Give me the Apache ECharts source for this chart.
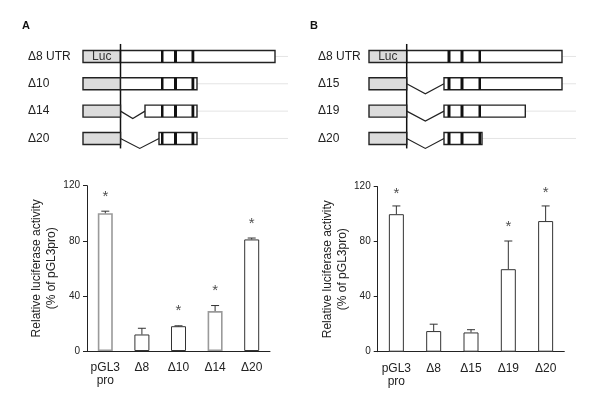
<!DOCTYPE html>
<html><head><meta charset="utf-8">
<script src="https://cdn.jsdelivr.net/npm/echarts@6/dist/echarts.min.js"></script>
<style>html,body{margin:0;padding:0;background:#fff}#c{width:600px;height:403px}</style>
</head><body><div id="c"></div>
<script>
// ---- bar chart data ----
const categoriesA = ['pGL3\npro', 'Δ8', 'Δ10', 'Δ14', 'Δ20'];
const valuesA = [100, 12, 18, 29, 81];
const errorTopA = [101.5, 16.5, 18.3, 33, 82];
const starsA = [['pGL3\npro', 114], ['Δ10', 31], ['Δ14', 45.5], ['Δ20', 94.5]];

const categoriesB = ['pGL3\npro', 'Δ8', 'Δ15', 'Δ19', 'Δ20'];
const valuesB = [100, 15, 14, 60, 95];
const errorTopB = [106, 20, 16, 80.5, 106];
const starsB = [['pGL3\npro', 117], ['Δ19', 93], ['Δ20', 118]];

const yMin = 0, yMax = 120, yStep = 40;

// ---- construct diagram data (positions along the construct) ----
const constructNamesA = ['Δ8 UTR', 'Δ10', 'Δ14', 'Δ20'];
const lucEndA = 37.5;
const utrStartA = [37.5, 37.5, 62, 76];
const utrEndA = [192, 114, 114, 114];
const bandsA = [[78, 80.5], [91, 94], [108.5, 111.3]];
const scaleEndA = 205;

const constructNamesB = ['Δ8 UTR', 'Δ15', 'Δ19', 'Δ20'];
const lucEndB = 37.7;
const utrStartB = [37.7, 75, 75, 75];
const utrEndB = [193, 193, 156.3, 113];
const bandsB = [[78.5, 81.5], [91.5, 94.5], [109.5, 112]];
const scaleEndB = 207;

const FONT = 'Liberation Sans, Arial, sans-serif';
const INK = '#222';

function constructSeries(idx, starts, ends, bands, lucEnd, scaleEnd) {
  return {
    type: 'custom', xAxisIndex: idx, yAxisIndex: idx, silent: true,
    data: starts.map((s, i) => [i, s, ends[i]]),
    encode: { x: [1, 2], y: 0 },
    renderItem(params, api) {
      const row = api.value(0), s = api.value(1), e = api.value(2);
      const p0 = api.coord([0, row]);
      const pl = api.coord([lucEnd, row]);
      const ps = api.coord([s, row]);
      const pe = api.coord([e, row]);
      const pm = api.coord([scaleEnd, row]);
      const band = api.size([0, 1])[1];
      const cy = p0[1], h = 12;
      const ch = [];
      ch.push({ type: 'line', shape: { x1: pe[0], y1: cy, x2: pm[0], y2: cy }, style: { stroke: '#e4e4e4', lineWidth: 1 } });
      ch.push({ type: 'rect', shape: { x: p0[0], y: cy - h / 2, width: pl[0] - p0[0], height: h }, style: { fill: '#dcdcdc', stroke: INK, lineWidth: 1.4 } });
      if (s > lucEnd + 0.5) {
        const len = ps[0] - pl[0];
        const dip = Math.min(10, len * 0.3);
        ch.push({ type: 'polyline', shape: { points: [[pl[0], cy], [pl[0] + len * 0.5, cy + dip], [ps[0], cy]] }, style: { stroke: INK, lineWidth: 1.2, fill: null } });
      }
      ch.push({ type: 'rect', shape: { x: ps[0], y: cy - h / 2, width: pe[0] - ps[0], height: h }, style: { fill: '#fff', stroke: INK, lineWidth: 1.4 } });
      bands.forEach(b => {
        if (b[0] >= s && b[1] <= e) {
          const a = api.coord([b[0], row]), z = api.coord([b[1], row]);
          ch.push({ type: 'rect', shape: { x: a[0], y: cy - h / 2, width: z[0] - a[0], height: h }, style: { fill: '#111' } });
        }
      });
      if (row === 0) {
        ch.push({ type: 'text', style: { text: 'Luc', x: (p0[0] + pl[0]) / 2, y: cy + 0.5, align: 'center', verticalAlign: 'middle', fontSize: 12, fontFamily: FONT, fill: '#333' } });
        ch.push({ type: 'line', shape: { x1: pl[0], y1: cy - 12.5, x2: pl[0], y2: cy + 3 * band + 10 }, style: { stroke: '#111', lineWidth: 1.5 } });
      }
      return { type: 'group', children: ch };
    }
  };
}

function errorSeries(idx, cats, vals, tops) {
  return {
    type: 'custom', xAxisIndex: idx, yAxisIndex: idx, silent: true, z: 3,
    data: cats.map((c, i) => [i, vals[i], tops[i]]),
    encode: { x: 0, y: [1, 2] },
    renderItem(params, api) {
      const a = api.coord([api.value(0), api.value(1)]);
      const b = api.coord([api.value(0), api.value(2)]);
      const w = 4;
      return { type: 'group', children: [
        { type: 'line', shape: { x1: a[0], y1: a[1], x2: b[0], y2: b[1] }, style: { stroke: '#333', lineWidth: 1 } },
        { type: 'line', shape: { x1: b[0] - w, y1: b[1], x2: b[0] + w, y2: b[1] }, style: { stroke: '#333', lineWidth: 1 } }
      ] };
    }
  };
}

function starSeries(idx, stars) {
  return {
    type: 'scatter', xAxisIndex: idx, yAxisIndex: idx, silent: true,
    symbolSize: 0, data: stars,
    label: { show: true, formatter: '*', position: 'inside', offset: [0, 3], fontSize: 15, fontFamily: FONT, color: '#222' }
  };
}

function barSeries(idx, vals, borderColors) {
  return {
    type: 'bar', xAxisIndex: idx, yAxisIndex: idx, barWidth: 15, silent: true,
    data: vals.map((v, i) => ({ value: v, itemStyle: { color: '#fff', borderColor: borderColors[i], borderWidth: borderColors[i] === '#333' ? 1 : 1.6 } }))
  };
}

function catAxis(idx, cats) {
  return { type: 'category', gridIndex: idx, data: cats,
    axisLine: { lineStyle: { color: INK, width: 1 } }, axisTick: { show: false },
    axisLabel: { color: '#222', fontSize: 12, fontFamily: FONT, margin: 10, lineHeight: 13, interval: 0 } };
}
function valAxis(idx) {
  return { type: 'value', gridIndex: idx, min: yMin, max: yMax, interval: yStep,
    axisLine: { show: true, lineStyle: { color: INK, width: 1 } },
    axisTick: { show: true, length: 4, lineStyle: { color: INK } },
    splitLine: { show: false },
    axisLabel: { color: '#222', fontSize: 10, fontFamily: FONT, margin: 7 },
    name: 'Relative luciferase activity\n(% of pGL3pro)', nameLocation: 'middle', nameRotate: 90, nameGap: 28,
    nameMoveOverlap: false,
    nameTextStyle: { color: '#222', fontSize: 12, fontFamily: FONT, lineHeight: 15 } };
}
function diagX(idx, max) {
  return { type: 'value', gridIndex: idx, min: 0, max: max, show: false };
}
function diagY(idx, names, margin) {
  return { type: 'category', gridIndex: idx, data: names, inverse: true,
    axisLine: { show: false }, axisTick: { show: false }, splitLine: { show: false },
    axisLabel: { align: 'left', margin: margin, fontSize: 12, fontFamily: FONT, color: '#222' } };
}

const chart = echarts.init(document.getElementById('c'), null, { renderer: 'canvas' });
chart.setOption({
  animation: false,
  backgroundColor: '#fff',
  graphic: [
    { type: 'text', x: 22, y: 25.5, style: { text: 'A', fontSize: 11, fontWeight: 'bold', fontFamily: FONT, fill: '#111', verticalAlign: 'middle' } },
    { type: 'text', x: 310, y: 25.5, style: { text: 'B', fontSize: 11, fontWeight: 'bold', fontFamily: FONT, fill: '#111', verticalAlign: 'middle' } }
  ],
  grid: [
    { left: 83, top: 42.8, width: 205, height: 109.3 },
    { left: 369, top: 42.8, width: 207, height: 109.3 },
    { left: 87, top: 185.7, width: 183, height: 165.3 },
    { left: 377.7, top: 186.7, width: 186.6, height: 165 }
  ],
  xAxis: [diagX(0, scaleEndA), diagX(1, scaleEndB), catAxis(2, categoriesA), catAxis(3, categoriesB)],
  yAxis: [diagY(0, constructNamesA, 55), diagY(1, constructNamesB, 51), valAxis(2), valAxis(3)],
  series: [
    constructSeries(0, utrStartA, utrEndA, bandsA, lucEndA, scaleEndA),
    constructSeries(1, utrStartB, utrEndB, bandsB, lucEndB, scaleEndB),
    barSeries(2, valuesA, ['#9a9a9a', '#333', '#333', '#9a9a9a', '#333']),
    barSeries(3, valuesB, ['#333', '#333', '#333', '#333', '#333']),
    errorSeries(2, categoriesA, valuesA, errorTopA),
    errorSeries(3, categoriesB, valuesB, errorTopB),
    starSeries(2, starsA),
    starSeries(3, starsB)
  ]
});
</script></body></html>
